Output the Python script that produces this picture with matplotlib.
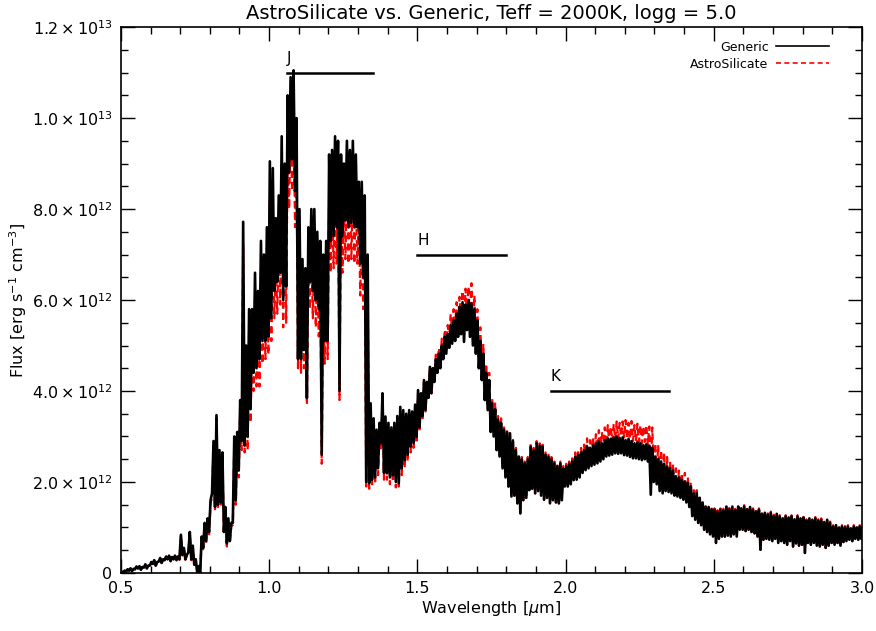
import numpy as np
import matplotlib
matplotlib.use('Agg')
import matplotlib.pyplot as plt
from matplotlib.ticker import AutoMinorLocator

# Spectra read off the figure as a low/high envelope per 0.01 micron bin,
# 0.50 .. 3.00 micron, flux in units of 1e12 erg s^-1 cm^-3
generic_hi = [
    0.03, 0.05, 0.08, 0.10, 0.09, 0.14, 0.15, 0.13, 0.19, 0.16,
    0.24, 0.28, 0.24, 0.33, 0.30, 0.36, 0.38, 0.35, 0.38, 0.36,
    0.84, 0.55, 0.40, 0.90, 0.60, 0.30, 0.15, 0.80, 1.10, 1.20,
    1.60, 2.90, 3.47, 2.70, 2.65, 1.45, 1.20, 1.10, 3.00, 3.10,
    3.80, 7.72, 5.00, 5.80, 5.80, 6.60, 6.20, 7.30, 7.00, 7.60,
    9.05, 8.90, 7.80, 8.30, 9.60, 9.00, 10.50, 10.90, 11.05, 10.00,
    8.00, 6.90, 6.70, 7.60, 8.00, 8.00, 7.50, 7.30, 7.00, 7.30,
    9.20, 9.30, 9.60, 9.50, 9.20, 9.00, 9.50, 9.30, 9.50, 9.20,
    8.60, 8.60, 8.30, 7.00, 3.73, 3.40, 3.15, 3.30, 3.95, 3.44,
    3.30, 3.20, 3.30, 3.45, 3.65, 3.58, 3.50, 3.58, 3.55, 3.70,
    4.02, 3.95, 4.24, 4.20, 4.53, 4.50, 4.70, 4.82, 5.00, 5.19,
    5.25, 5.45, 5.56, 5.70, 5.85, 5.95, 5.90, 6.00, 5.93, 5.80,
    5.56, 5.10, 4.82, 4.40, 4.24, 3.73, 3.60, 3.37, 3.30, 3.15,
    3.10, 3.07, 2.90, 2.70, 2.56, 2.50, 2.41, 2.50, 2.78, 2.70,
    2.85, 2.80, 2.78, 2.60, 2.56, 2.50, 2.41, 2.35, 2.41, 2.30,
    2.34, 2.40, 2.45, 2.55, 2.60, 2.65, 2.70, 2.78, 2.75, 2.80,
    2.85, 2.89, 2.85, 2.92, 2.96, 2.95, 2.98, 3.00, 2.97, 2.98,
    2.92, 2.95, 2.90, 2.85, 2.88, 2.85, 2.81, 2.83, 2.80, 2.75,
    2.56, 2.50, 2.45, 2.40, 2.34, 2.30, 2.25, 2.12, 2.10, 2.05,
    2.01, 1.98, 1.90, 1.75, 1.75, 1.65, 1.55, 1.46, 1.45, 1.40,
    1.39, 1.35, 1.39, 1.38, 1.46, 1.40, 1.44, 1.38, 1.46, 1.42,
    1.46, 1.40, 1.45, 1.39, 1.35, 1.39, 1.30, 1.32, 1.28, 1.32,
    1.25, 1.30, 1.24, 1.20, 1.24, 1.22, 1.24, 1.18, 1.24, 1.20,
    1.22, 1.15, 1.20, 1.17, 1.20, 1.15, 1.17, 1.12, 1.17, 1.10,
    1.02, 1.05, 1.00, 1.02, 1.00, 1.02, 0.98, 1.02, 1.00, 1.02,
    1.00,
]
generic_lo = [
    0.00, 0.01, 0.03, 0.05, 0.04, 0.08, 0.10, 0.07, 0.12, 0.10,
    0.16, 0.20, 0.16, 0.25, 0.22, 0.28, 0.30, 0.26, 0.30, 0.28,
    0.30, 0.40, 0.30, 0.45, 0.30, 0.18, 0.02, 0.00, 0.55, 0.70,
    0.90, 1.75, 1.45, 1.50, 1.55, 0.90, 0.65, 0.70, 1.10, 1.60,
    2.25, 2.90, 2.80, 3.00, 3.60, 4.40, 4.50, 4.70, 5.10, 5.10,
    5.20, 5.60, 6.20, 6.40, 6.60, 6.00, 6.30, 8.80, 9.10, 8.40,
    4.70, 4.70, 4.90, 3.85, 6.40, 6.20, 6.00, 5.80, 2.60, 5.10,
    5.10, 7.30, 7.40, 7.60, 4.00, 7.40, 7.75, 7.60, 7.70, 7.60,
    7.60, 6.80, 6.50, 2.00, 1.97, 2.05, 2.10, 2.30, 2.85, 2.20,
    2.19, 2.10, 2.15, 2.00, 1.97, 2.30, 2.48, 2.60, 2.78, 2.85,
    2.99, 3.20, 3.45, 3.58, 3.85, 3.95, 4.20, 4.40, 4.50, 4.70,
    4.82, 4.95, 5.04, 5.10, 5.19, 5.25, 5.08, 5.34, 5.19, 5.00,
    4.82, 4.50, 4.24, 3.80, 3.58, 3.10, 3.00, 2.70, 2.56, 2.30,
    2.10, 1.90, 1.68, 1.70, 1.53, 1.31, 1.60, 1.65, 1.82, 1.85,
    1.75, 1.80, 1.70, 1.61, 1.65, 1.53, 1.60, 1.55, 1.53, 1.60,
    1.90, 1.90, 1.95, 2.04, 2.05, 2.10, 2.20, 2.26, 2.30, 2.35,
    2.38, 2.41, 2.45, 2.50, 2.56, 2.58, 2.60, 2.63, 2.62, 2.63,
    2.59, 2.58, 2.55, 2.52, 2.52, 2.50, 2.48, 2.50, 2.45, 1.72,
    2.00, 1.95, 1.80, 1.75, 1.80, 1.78, 1.75, 1.70, 1.68, 1.65,
    1.61, 1.55, 1.45, 1.25, 1.17, 1.10, 1.05, 0.95, 0.90, 0.85,
    0.80, 0.66, 0.75, 0.80, 0.80, 0.82, 0.80, 0.85, 0.80, 0.95,
    0.95, 0.92, 0.95, 0.90, 0.87, 0.80, 0.51, 0.73, 0.75, 0.73,
    0.70, 0.75, 0.66, 0.70, 0.66, 0.62, 0.70, 0.58, 0.65, 0.60,
    0.62, 0.44, 0.66, 0.62, 0.66, 0.60, 0.58, 0.62, 0.55, 0.60,
    0.66, 0.62, 0.66, 0.60, 0.68, 0.70, 0.73, 0.70, 0.75, 0.73,
    0.75,
]
astrosil_hi = [
    0.03, 0.05, 0.08, 0.10, 0.09, 0.14, 0.15, 0.13, 0.19, 0.16,
    0.24, 0.28, 0.24, 0.33, 0.30, 0.36, 0.38, 0.35, 0.38, 0.36,
    0.82, 0.53, 0.39, 0.88, 0.58, 0.29, 0.14, 0.78, 1.07, 1.17,
    1.55, 2.80, 3.40, 2.60, 2.55, 1.40, 1.15, 1.05, 2.85, 3.00,
    3.60, 7.20, 4.60, 5.30, 5.30, 6.00, 5.70, 6.60, 6.40, 6.90,
    8.20, 8.00, 7.00, 7.40, 8.60, 8.10, 9.40, 9.80, 9.90, 9.00,
    7.20, 6.20, 6.00, 6.80, 7.20, 7.20, 6.80, 6.60, 6.30, 6.60,
    8.30, 8.40, 8.70, 8.60, 8.30, 8.10, 8.60, 8.40, 8.60, 8.30,
    7.80, 7.80, 7.50, 6.30, 3.50, 3.20, 2.95, 3.10, 3.70, 3.25,
    3.10, 3.00, 3.10, 3.25, 3.45, 3.40, 3.35, 3.45, 3.45, 3.60,
    3.95, 3.90, 4.20, 4.20, 4.55, 4.55, 4.80, 4.95, 5.15, 5.35,
    5.45, 5.70, 5.80, 5.95, 6.07, 6.20, 6.25, 6.30, 6.37, 6.10,
    5.80, 5.40, 5.04, 4.60, 4.40, 3.85, 3.75, 3.45, 3.40, 3.20,
    3.15, 3.10, 2.95, 2.75, 2.60, 2.55, 2.45, 2.55, 2.85, 2.75,
    2.90, 2.85, 2.82, 2.65, 2.60, 2.55, 2.45, 2.40, 2.45, 2.35,
    2.40, 2.45, 2.52, 2.65, 2.70, 2.75, 2.82, 2.96, 2.92, 3.00,
    3.05, 3.14, 3.10, 3.20, 3.25, 3.22, 3.28, 3.33, 3.30, 3.33,
    3.36, 3.30, 3.34, 3.25, 3.28, 3.25, 3.22, 3.25, 3.22, 3.20,
    2.85, 2.81, 2.70, 2.65, 2.55, 2.45, 2.40, 2.30, 2.25, 2.20,
    2.20, 2.10, 2.00, 1.85, 1.82, 1.72, 1.60, 1.52, 1.50, 1.45,
    1.42, 1.38, 1.42, 1.41, 1.49, 1.43, 1.47, 1.41, 1.49, 1.45,
    1.49, 1.43, 1.48, 1.42, 1.38, 1.42, 1.33, 1.35, 1.31, 1.35,
    1.28, 1.33, 1.27, 1.23, 1.27, 1.25, 1.27, 1.21, 1.27, 1.23,
    1.25, 1.18, 1.23, 1.20, 1.23, 1.18, 1.20, 1.15, 1.20, 1.13,
    1.05, 1.08, 1.03, 1.05, 1.03, 1.05, 1.01, 1.05, 1.03, 1.05,
    1.03,
]
astrosil_lo = [
    0.00, 0.01, 0.03, 0.05, 0.04, 0.08, 0.10, 0.07, 0.12, 0.10,
    0.16, 0.20, 0.16, 0.25, 0.22, 0.28, 0.30, 0.26, 0.30, 0.28,
    0.29, 0.38, 0.29, 0.43, 0.28, 0.17, 0.01, 0.00, 0.52, 0.66,
    0.85, 1.65, 1.40, 1.45, 1.50, 0.85, 0.58, 0.65, 1.05, 1.50,
    2.10, 2.70, 2.65, 2.70, 3.30, 4.00, 4.10, 4.10, 4.60, 4.70,
    4.80, 5.10, 5.60, 5.70, 5.90, 5.40, 5.50, 8.00, 8.40, 7.60,
    4.50, 4.40, 4.50, 3.70, 5.80, 5.60, 5.40, 5.20, 2.40, 4.60,
    4.70, 6.60, 6.70, 6.80, 3.80, 6.60, 6.90, 6.80, 6.90, 6.80,
    6.80, 6.10, 5.80, 1.90, 1.85, 1.95, 1.95, 2.15, 2.70, 2.05,
    2.05, 1.95, 2.00, 1.88, 1.90, 2.15, 2.30, 2.45, 2.65, 2.75,
    2.85, 3.10, 3.40, 3.55, 3.85, 3.95, 4.25, 4.45, 4.60, 4.85,
    5.00, 5.15, 5.30, 5.40, 5.50, 5.60, 5.45, 5.70, 5.55, 5.30,
    5.05, 4.75, 4.45, 3.95, 3.70, 3.20, 3.10, 2.75, 2.60, 2.35,
    2.10, 1.90, 1.68, 1.70, 1.53, 1.31, 1.60, 1.65, 1.82, 1.85,
    1.75, 1.80, 1.70, 1.61, 1.65, 1.53, 1.60, 1.55, 1.53, 1.60,
    1.92, 1.95, 2.00, 2.10, 2.12, 2.18, 2.30, 2.40, 2.45, 2.52,
    2.58, 2.62, 2.68, 2.75, 2.82, 2.85, 2.90, 2.95, 2.95, 3.00,
    2.98, 2.95, 2.95, 2.90, 2.90, 2.88, 2.85, 2.88, 2.82, 2.20,
    2.25, 2.20, 2.05, 1.95, 1.95, 1.90, 1.85, 1.80, 1.75, 1.70,
    1.65, 1.58, 1.48, 1.28, 1.18, 1.10, 1.05, 0.95, 0.90, 0.85,
    0.80, 0.66, 0.75, 0.80, 0.80, 0.82, 0.80, 0.85, 0.80, 0.95,
    0.95, 0.92, 0.95, 0.90, 0.87, 0.80, 0.51, 0.73, 0.75, 0.73,
    0.70, 0.75, 0.66, 0.70, 0.66, 0.62, 0.70, 0.58, 0.65, 0.60,
    0.62, 0.44, 0.66, 0.62, 0.66, 0.60, 0.58, 0.62, 0.55, 0.60,
    0.66, 0.62, 0.66, 0.60, 0.68, 0.70, 0.73, 0.70, 0.75, 0.73,
    0.75,
]

# photometric band markers: name, start, end, level (1e12)
bands = ['J', 'H', 'K']
band_lo = [1.06, 1.50, 1.95]
band_hi = [1.35, 1.80, 2.35]
band_lev = [11.0, 7.0, 4.0]

ytick_vals = [0, 2, 4, 6, 8, 10, 12]
ytick_labels = ['0', r'$2.0\times10^{12}$', r'$4.0\times10^{12}$', r'$6.0\times10^{12}$',
                r'$8.0\times10^{12}$', r'$1.0\times10^{13}$', r'$1.2\times10^{13}$']

scale = 1e12
nbin = len(generic_hi)
centers = np.linspace(0.5, 3.0, nbin)


def zigzag(lo, hi):
    # alternate low/high inside each bin so the noisy spectrum draws as a band
    x = np.column_stack([centers - 0.0025, centers + 0.0025]).ravel()
    y = np.column_stack([lo, hi]).ravel() * scale
    return x, y


fig = plt.figure(figsize=(8.76, 6.31), dpi=100)
ax = fig.add_axes([0.138, 0.092, 0.846, 0.865])

xa, ya = zigzag(astrosil_lo, astrosil_hi)
xg, yg = zigzag(generic_lo, generic_hi)
l_as, = ax.plot(xa, ya, color='red', lw=1.6, ls=(0, (3, 2)), label='AstroSilicate')
l_gen, = ax.plot(xg, yg, color='black', lw=1.9, label='Generic')

for name, lo, hi, lev in zip(bands, band_lo, band_hi, band_lev):
    ax.plot([lo, hi], [lev * scale, lev * scale], color='black', lw=1.8)
    ax.text(lo, (lev + 0.15) * scale, name, fontsize=11, ha='left', va='bottom')

ax.set_xlim(0.5, 3.0)
ax.set_ylim(0, 12 * scale)
ax.set_xticks([0.5, 1.0, 1.5, 2.0, 2.5, 3.0])
ax.set_xticklabels(['0.5', '1.0', '1.5', '2.0', '2.5', '3.0'])
ax.set_yticks([v * scale for v in ytick_vals])
ax.set_yticklabels(ytick_labels)
ax.xaxis.set_minor_locator(AutoMinorLocator(5))
ax.yaxis.set_minor_locator(AutoMinorLocator(4))
ax.tick_params(which='both', direction='in', top=True, right=True, labelsize=11.5, pad=6)
ax.tick_params(which='major', length=10, width=1)
ax.tick_params(which='minor', length=5, width=1)
for s in ax.spines.values():
    s.set_linewidth(1.2)

ax.set_xlabel(r'Wavelength [$\mu$m]', fontsize=11.5, labelpad=2)
ax.set_ylabel(r'Flux [erg s$^{-1}$ cm$^{-3}$]', fontsize=11.5, labelpad=2)
ax.set_title('AstroSilicate vs. Generic, Teff = 2000K, logg = 5.0', fontsize=14, pad=6)

leg = ax.legend([l_gen, l_as], ['Generic', 'AstroSilicate'], loc='upper right',
                bbox_to_anchor=(0.955, 0.975), frameon=False, markerfirst=False,
                fontsize=9, handlelength=4.2, handletextpad=0.6, borderaxespad=0,
                borderpad=0, labelspacing=0.3)
for h in leg.get_lines():
    h.set_linewidth(1.2)

fig.savefig('out.png', dpi=100)
